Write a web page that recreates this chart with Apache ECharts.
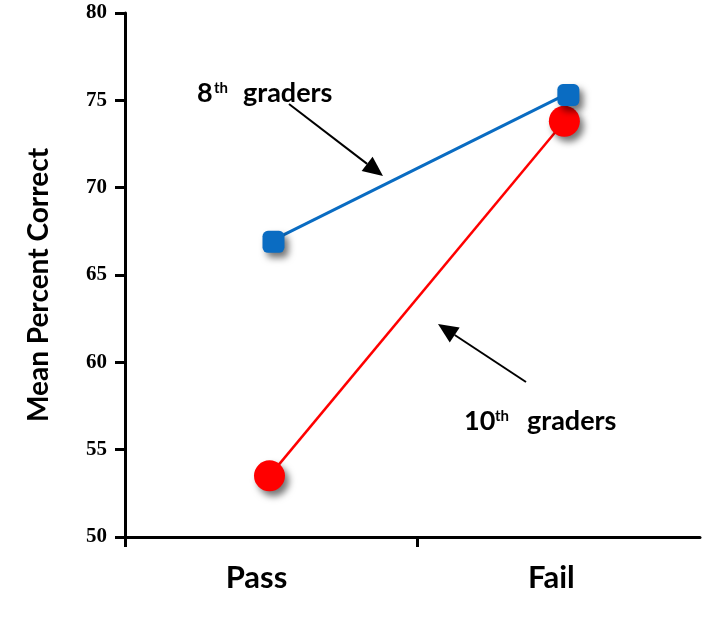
<!DOCTYPE html>
<html>
<head>
<meta charset="utf-8">
<script src="https://cdn.jsdelivr.net/npm/echarts@6/dist/echarts.min.js"></script>
<style>
  html, body { margin: 0; padding: 0; background: #fff; }
  #chart { width: 716px; height: 618px; }
</style>
</head>
<body>
<div id="chart"></div>
<script>
// 数据
const categories = ['Pass', 'Fail'];
const grade8 = [66.9, 75.3];
const grade10 = [53.5, 73.8];
const yTicks = [50, 55, 60, 65, 70, 75, 80];

const chart = echarts.init(document.getElementById('chart'));

const markerShadow = {
    shadowColor: 'rgba(0,0,0,0.55)',
    shadowBlur: 7,
    shadowOffsetX: 4,
    shadowOffsetY: 5
};

// 箭头: 线 + 三角形
const arrow = (x1, y1, x2, y2) => {
    const ang = Math.atan2(y2 - y1, x2 - x1);
    const len = 20, half = 9;
    const bx = x2 - len * Math.cos(ang), by = y2 - len * Math.sin(ang);
    const px = -Math.sin(ang) * half, py = Math.cos(ang) * half;
    return [
        { type: 'line', shape: { x1: x1, y1: y1, x2: bx, y2: by }, style: { stroke: '#000', lineWidth: 2 } },
        { type: 'polygon', shape: { points: [[x2, y2], [bx + px, by + py], [bx - px, by - py]] }, style: { fill: '#000' } }
    ];
};

const txt = (x, y, text, size) => ({
    type: 'text', x: x, y: y,
    style: { text: text, font: 'bold ' + size + 'px Lato', fill: '#000', textVerticalAlign: 'bottom' }
});

const option = {
    backgroundColor: '#fff',
    animation: false,
    grid: { left: 125, right: 16, top: 13, bottom: 81 },
    xAxis: {
        type: 'value',
        min: -0.49,
        max: 1.46,
        splitLine: { show: false },
        axisLine: { onZero: false, lineStyle: { color: '#000', width: 3 } },
        axisTick: { customValues: [-0.49, 0.5], length: 10, lineStyle: { color: '#000', width: 3 } },
        axisLabel: {
            customValues: [0, 1],
            formatter: v => categories[Math.round(v)],
            fontFamily: 'Lato',
            fontWeight: 'bold',
            fontSize: 31,
            color: '#000',
            margin: 25,
            padding: [0, 26, 0, 0]
        }
    },
    yAxis: {
        type: 'value',
        min: yTicks[0],
        max: yTicks[yTicks.length - 1],
        interval: 5,
        name: 'Mean Percent Correct',
        nameLocation: 'middle',
        nameGap: 72,
        nameTextStyle: { fontFamily: 'Lato', fontWeight: 'bold', fontSize: 28, color: '#000', padding: [0, 20, 0, 0] },
        splitLine: { show: false },
        axisLine: { onZero: false, lineStyle: { color: '#000', width: 3 } },
        axisTick: { length: 10, lineStyle: { color: '#000', width: 3 } },
        axisLabel: {
            fontFamily: 'Liberation Serif',
            fontWeight: 'bold',
            fontSize: 21,
            color: '#000',
            margin: 18
        }
    },
    series: [
        {
            name: '10th graders',
            type: 'line',
            data: grade10.map((v, i) => [i, v]),
            symbol: 'circle',
            symbolSize: 31,
            lineStyle: { color: '#ff0000', width: 2.5 },
            itemStyle: Object.assign({ color: '#ff0000' }, markerShadow),
            z: 2
        },
        {
            name: '8th graders',
            type: 'line',
            data: grade8.map((v, i) => [i, v]),
            symbol: 'roundRect',
            symbolSize: 22,
            symbolOffset: [4, 0],
            lineStyle: { color: '#0a6cc2', width: 3 },
            itemStyle: Object.assign({ color: '#0a6cc2' }, markerShadow),
            z: 3
        }
    ],
    graphic: [
        txt(197, 107, '8', 27),
        txt(214, 96, 'th', 15),
        txt(243, 107, 'graders', 27),
        ...arrow(289, 104, 383, 176),
        txt(464, 435, '10', 27),
        txt(495, 424, 'th', 15),
        txt(527, 435, 'graders', 27),
        ...arrow(526, 382, 438, 324)
    ]
};

chart.setOption(option);
</script>
</body>
</html>
